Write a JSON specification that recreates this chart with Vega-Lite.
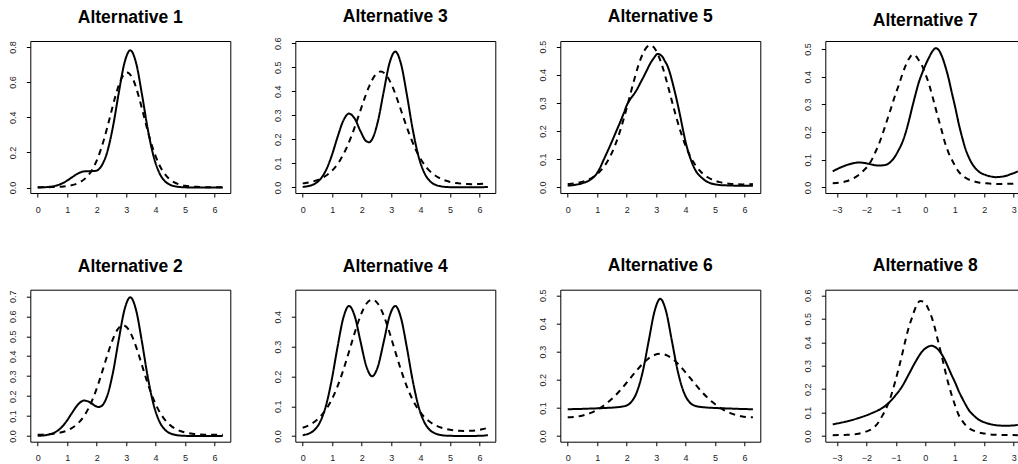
{
"$schema": "https://vega.github.io/schema/vega-lite/v6.json",
"autosize": {"type": "none"},
"padding": {"left": 30.3, "top": 41, "right": 987.7, "bottom": 423},
"background": "white",
"datasets": {"d": [
{"p":1,"s":"solid","x":0,"y":0.0006},{"p":1,"s":"solid","x":0.1963,"y":0.0016},{"p":1,"s":"solid","x":0.3927,"y":0.0041},{"p":1,"s":"solid","x":0.589,"y":0.0095},{"p":1,"s":"solid","x":0.7854,"y":0.0202},{"p":1,"s":"solid","x":0.9817,"y":0.0377},{"p":1,"s":"solid","x":1.1781,"y":0.0601},{"p":1,"s":"solid","x":1.3744,"y":0.0808},{"p":1,"s":"solid","x":1.5708,"y":0.0919},{"p":1,"s":"solid","x":1.7671,"y":0.0928},{"p":1,"s":"solid","x":1.9635,"y":0.0949},{"p":1,"s":"solid","x":2.1598,"y":0.1219},{"p":1,"s":"solid","x":2.3562,"y":0.2006},{"p":1,"s":"solid","x":2.5525,"y":0.3455},{"p":1,"s":"solid","x":2.7489,"y":0.5373},{"p":1,"s":"solid","x":2.9452,"y":0.7105},{"p":1,"s":"solid","x":3.1416,"y":0.781},{"p":1,"s":"solid","x":3.3379,"y":0.7091},{"p":1,"s":"solid","x":3.5343,"y":0.5334},{"p":1,"s":"solid","x":3.7306,"y":0.3361},{"p":1,"s":"solid","x":3.927,"y":0.1805},{"p":1,"s":"solid","x":4.1233,"y":0.0846},{"p":1,"s":"solid","x":4.3197,"y":0.0356},{"p":1,"s":"solid","x":4.516,"y":0.014},{"p":1,"s":"solid","x":4.7124,"y":0.0052},{"p":1,"s":"solid","x":4.9087,"y":0.002},{"p":1,"s":"solid","x":5.1051,"y":0.0008},{"p":1,"s":"solid","x":5.3014,"y":0.0004},{"p":1,"s":"solid","x":5.4978,"y":0.0002},{"p":1,"s":"solid","x":5.6941,"y":0.0001},{"p":1,"s":"solid","x":5.8905,"y":0.0002},{"p":1,"s":"solid","x":6.0868,"y":0.0002},{"p":1,"s":"solid","x":6.2832,"y":0.0006},
{"p":1,"s":"dashed","x":0,"y":0.00165},{"p":1,"s":"dashed","x":0.0857,"y":0.00172},{"p":1,"s":"dashed","x":0.282,"y":0.00204},{"p":1,"s":"dashed","x":0.4784,"y":0.00269},{"p":1,"s":"dashed","x":0.6747,"y":0.00391},{"p":1,"s":"dashed","x":0.8711,"y":0.00616},{"p":1,"s":"dashed","x":1.0674,"y":0.01035},{"p":1,"s":"dashed","x":1.2638,"y":0.01816},{"p":1,"s":"dashed","x":1.4601,"y":0.03261},{"p":1,"s":"dashed","x":1.6565,"y":0.05855},{"p":1,"s":"dashed","x":1.8528,"y":0.10278},{"p":1,"s":"dashed","x":2.0492,"y":0.17266},{"p":1,"s":"dashed","x":2.2455,"y":0.27202},{"p":1,"s":"dashed","x":2.4419,"y":0.39502},{"p":1,"s":"dashed","x":2.6382,"y":0.52128},{"p":1,"s":"dashed","x":2.8346,"y":0.61832},{"p":1,"s":"dashed","x":3.0309,"y":0.65496},{"p":1,"s":"dashed","x":3.2273,"y":0.61832},{"p":1,"s":"dashed","x":3.4236,"y":0.52128},{"p":1,"s":"dashed","x":3.62,"y":0.39502},{"p":1,"s":"dashed","x":3.8163,"y":0.27202},{"p":1,"s":"dashed","x":4.0127,"y":0.17266},{"p":1,"s":"dashed","x":4.209,"y":0.10278},{"p":1,"s":"dashed","x":4.4054,"y":0.05855},{"p":1,"s":"dashed","x":4.6017,"y":0.03261},{"p":1,"s":"dashed","x":4.7981,"y":0.01816},{"p":1,"s":"dashed","x":4.9944,"y":0.01035},{"p":1,"s":"dashed","x":5.1908,"y":0.00616},{"p":1,"s":"dashed","x":5.3871,"y":0.00391},{"p":1,"s":"dashed","x":5.5835,"y":0.00269},{"p":1,"s":"dashed","x":5.7798,"y":0.00204},{"p":1,"s":"dashed","x":5.9762,"y":0.00172},{"p":1,"s":"dashed","x":6.1725,"y":0.00162},{"p":1,"s":"dashed","x":6.2832,"y":0.00165},
{"p":2,"s":"solid","x":0,"y":0.0012},{"p":2,"s":"solid","x":0.1963,"y":0.0031},{"p":2,"s":"solid","x":0.3927,"y":0.008},{"p":2,"s":"solid","x":0.589,"y":0.0189},{"p":2,"s":"solid","x":0.7854,"y":0.0403},{"p":2,"s":"solid","x":0.9817,"y":0.075},{"p":2,"s":"solid","x":1.1781,"y":0.1192},{"p":2,"s":"solid","x":1.3744,"y":0.1593},{"p":2,"s":"solid","x":1.5708,"y":0.178},{"p":2,"s":"solid","x":1.7671,"y":0.1699},{"p":2,"s":"solid","x":1.9635,"y":0.1502},{"p":2,"s":"solid","x":2.0617,"y":0.1455},{"p":2,"s":"solid","x":2.1598,"y":0.1499},{"p":2,"s":"solid","x":2.3562,"y":0.2005},{"p":2,"s":"solid","x":2.5525,"y":0.3175},{"p":2,"s":"solid","x":2.7489,"y":0.482},{"p":2,"s":"solid","x":2.9452,"y":0.6333},{"p":2,"s":"solid","x":3.1416,"y":0.6949},{"p":2,"s":"solid","x":3.3379,"y":0.6306},{"p":2,"s":"solid","x":3.5343,"y":0.4743},{"p":2,"s":"solid","x":3.7306,"y":0.2988},{"p":2,"s":"solid","x":3.927,"y":0.1604},{"p":2,"s":"solid","x":4.1233,"y":0.0752},{"p":2,"s":"solid","x":4.3197,"y":0.0317},{"p":2,"s":"solid","x":4.516,"y":0.0124},{"p":2,"s":"solid","x":4.7124,"y":0.0046},{"p":2,"s":"solid","x":4.9087,"y":0.0018},{"p":2,"s":"solid","x":5.1051,"y":0.0007},{"p":2,"s":"solid","x":5.3014,"y":0.0003},{"p":2,"s":"solid","x":5.4978,"y":0.0002},{"p":2,"s":"solid","x":5.6941,"y":0.0002},{"p":2,"s":"solid","x":5.8905,"y":0.0003},{"p":2,"s":"solid","x":6.0868,"y":0.0004},{"p":2,"s":"solid","x":6.2832,"y":0.0012},
{"p":2,"s":"dashed","x":0,"y":0.00646},{"p":2,"s":"dashed","x":0.1481,"y":0.00718},{"p":2,"s":"dashed","x":0.3445,"y":0.00885},{"p":2,"s":"dashed","x":0.5408,"y":0.01172},{"p":2,"s":"dashed","x":0.7372,"y":0.01651},{"p":2,"s":"dashed","x":0.9335,"y":0.0244},{"p":2,"s":"dashed","x":1.1299,"y":0.03728},{"p":2,"s":"dashed","x":1.3262,"y":0.05793},{"p":2,"s":"dashed","x":1.5226,"y":0.09003},{"p":2,"s":"dashed","x":1.7189,"y":0.13757},{"p":2,"s":"dashed","x":1.9153,"y":0.20334},{"p":2,"s":"dashed","x":2.1116,"y":0.28638},{"p":2,"s":"dashed","x":2.308,"y":0.37934},{"p":2,"s":"dashed","x":2.5043,"y":0.4674},{"p":2,"s":"dashed","x":2.7007,"y":0.53156},{"p":2,"s":"dashed","x":2.897,"y":0.55517},{"p":2,"s":"dashed","x":3.0934,"y":0.53156},{"p":2,"s":"dashed","x":3.2897,"y":0.4674},{"p":2,"s":"dashed","x":3.4861,"y":0.37934},{"p":2,"s":"dashed","x":3.6824,"y":0.28638},{"p":2,"s":"dashed","x":3.8788,"y":0.20334},{"p":2,"s":"dashed","x":4.0751,"y":0.13757},{"p":2,"s":"dashed","x":4.2715,"y":0.09003},{"p":2,"s":"dashed","x":4.4678,"y":0.05793},{"p":2,"s":"dashed","x":4.6642,"y":0.03728},{"p":2,"s":"dashed","x":4.8605,"y":0.0244},{"p":2,"s":"dashed","x":5.0569,"y":0.01651},{"p":2,"s":"dashed","x":5.2532,"y":0.01172},{"p":2,"s":"dashed","x":5.4496,"y":0.00885},{"p":2,"s":"dashed","x":5.6459,"y":0.00718},{"p":2,"s":"dashed","x":5.8423,"y":0.00631},{"p":2,"s":"dashed","x":6.0386,"y":0.00605},{"p":2,"s":"dashed","x":6.235,"y":0.00631},{"p":2,"s":"dashed","x":6.2832,"y":0.00646},
{"p":3,"s":"solid","x":0,"y":0.002},{"p":3,"s":"solid","x":0.1963,"y":0.0054},{"p":3,"s":"solid","x":0.3927,"y":0.0139},{"p":3,"s":"solid","x":0.589,"y":0.033},{"p":3,"s":"solid","x":0.7854,"y":0.0703},{"p":3,"s":"solid","x":0.9817,"y":0.131},{"p":3,"s":"solid","x":1.1781,"y":0.208},{"p":3,"s":"solid","x":1.3744,"y":0.2771},{"p":3,"s":"solid","x":1.5708,"y":0.3073},{"p":3,"s":"solid","x":1.7671,"y":0.2858},{"p":3,"s":"solid","x":1.9635,"y":0.2331},{"p":3,"s":"solid","x":2.1598,"y":0.1918},{"p":3,"s":"solid","x":2.258,"y":0.1882},{"p":3,"s":"solid","x":2.3562,"y":0.2005},{"p":3,"s":"solid","x":2.5525,"y":0.2756},{"p":3,"s":"solid","x":2.7489,"y":0.3991},{"p":3,"s":"solid","x":2.9452,"y":0.5174},{"p":3,"s":"solid","x":3.1416,"y":0.5656},{"p":3,"s":"solid","x":3.3379,"y":0.5128},{"p":3,"s":"solid","x":3.5343,"y":0.3855},{"p":3,"s":"solid","x":3.7306,"y":0.2428},{"p":3,"s":"solid","x":3.927,"y":0.1304},{"p":3,"s":"solid","x":4.1233,"y":0.0611},{"p":3,"s":"solid","x":4.3197,"y":0.0257},{"p":3,"s":"solid","x":4.516,"y":0.0101},{"p":3,"s":"solid","x":4.7124,"y":0.0038},{"p":3,"s":"solid","x":4.9087,"y":0.0014},{"p":3,"s":"solid","x":5.1051,"y":0.0006},{"p":3,"s":"solid","x":5.3014,"y":0.0003},{"p":3,"s":"solid","x":5.4978,"y":0.0002},{"p":3,"s":"solid","x":5.6941,"y":0.0002},{"p":3,"s":"solid","x":5.8905,"y":0.0004},{"p":3,"s":"solid","x":6.0868,"y":0.0008},{"p":3,"s":"solid","x":6.2832,"y":0.002},
{"p":3,"s":"dashed","x":0,"y":0.01665},{"p":3,"s":"dashed","x":0.0955,"y":0.01818},{"p":3,"s":"dashed","x":0.2918,"y":0.02271},{"p":3,"s":"dashed","x":0.4882,"y":0.02979},{"p":3,"s":"dashed","x":0.6845,"y":0.04059},{"p":3,"s":"dashed","x":0.8809,"y":0.05679},{"p":3,"s":"dashed","x":1.0772,"y":0.08053},{"p":3,"s":"dashed","x":1.2736,"y":0.11419},{"p":3,"s":"dashed","x":1.4699,"y":0.15974},{"p":3,"s":"dashed","x":1.6663,"y":0.21769},{"p":3,"s":"dashed","x":1.8626,"y":0.28552},{"p":3,"s":"dashed","x":2.059,"y":0.35672},{"p":3,"s":"dashed","x":2.2553,"y":0.42088},{"p":3,"s":"dashed","x":2.4517,"y":0.466},{"p":3,"s":"dashed","x":2.648,"y":0.48231},{"p":3,"s":"dashed","x":2.8444,"y":0.466},{"p":3,"s":"dashed","x":3.0407,"y":0.42088},{"p":3,"s":"dashed","x":3.2371,"y":0.35672},{"p":3,"s":"dashed","x":3.4334,"y":0.28552},{"p":3,"s":"dashed","x":3.6298,"y":0.21769},{"p":3,"s":"dashed","x":3.8261,"y":0.15974},{"p":3,"s":"dashed","x":4.0225,"y":0.11419},{"p":3,"s":"dashed","x":4.2188,"y":0.08053},{"p":3,"s":"dashed","x":4.4152,"y":0.05679},{"p":3,"s":"dashed","x":4.6115,"y":0.04059},{"p":3,"s":"dashed","x":4.8079,"y":0.02979},{"p":3,"s":"dashed","x":5.0042,"y":0.02271},{"p":3,"s":"dashed","x":5.2006,"y":0.01818},{"p":3,"s":"dashed","x":5.3969,"y":0.01541},{"p":3,"s":"dashed","x":5.5933,"y":0.01391},{"p":3,"s":"dashed","x":5.7896,"y":0.01344},{"p":3,"s":"dashed","x":5.986,"y":0.01391},{"p":3,"s":"dashed","x":6.1823,"y":0.01541},{"p":3,"s":"dashed","x":6.2832,"y":0.01665},
{"p":4,"s":"solid","x":0,"y":0.0029},{"p":4,"s":"solid","x":0.1963,"y":0.0078},{"p":4,"s":"solid","x":0.3927,"y":0.0199},{"p":4,"s":"solid","x":0.589,"y":0.0471},{"p":4,"s":"solid","x":0.7854,"y":0.1004},{"p":4,"s":"solid","x":0.9817,"y":0.1869},{"p":4,"s":"solid","x":1.1781,"y":0.2968},{"p":4,"s":"solid","x":1.3744,"y":0.395},{"p":4,"s":"solid","x":1.5708,"y":0.4365},{"p":4,"s":"solid","x":1.7671,"y":0.4016},{"p":4,"s":"solid","x":1.9635,"y":0.3161},{"p":4,"s":"solid","x":2.1598,"y":0.2337},{"p":4,"s":"solid","x":2.3562,"y":0.2005},{"p":4,"s":"solid","x":2.5525,"y":0.2337},{"p":4,"s":"solid","x":2.7489,"y":0.3161},{"p":4,"s":"solid","x":2.9452,"y":0.4016},{"p":4,"s":"solid","x":3.1416,"y":0.4365},{"p":4,"s":"solid","x":3.3379,"y":0.395},{"p":4,"s":"solid","x":3.5343,"y":0.2968},{"p":4,"s":"solid","x":3.7306,"y":0.1869},{"p":4,"s":"solid","x":3.927,"y":0.1004},{"p":4,"s":"solid","x":4.1233,"y":0.0471},{"p":4,"s":"solid","x":4.3197,"y":0.0199},{"p":4,"s":"solid","x":4.516,"y":0.0078},{"p":4,"s":"solid","x":4.7124,"y":0.0029},{"p":4,"s":"solid","x":4.9087,"y":0.0011},{"p":4,"s":"solid","x":5.1051,"y":0.0005},{"p":4,"s":"solid","x":5.3014,"y":0.0003},{"p":4,"s":"solid","x":5.4978,"y":0.0002},{"p":4,"s":"solid","x":5.6941,"y":0.0003},{"p":4,"s":"solid","x":5.8905,"y":0.0005},{"p":4,"s":"solid","x":6.0868,"y":0.0011},{"p":4,"s":"solid","x":6.2832,"y":0.0029},
{"p":4,"s":"dashed","x":0,"y":0.02763},{"p":4,"s":"dashed","x":0.1963,"y":0.03545},{"p":4,"s":"dashed","x":0.3927,"y":0.04711},{"p":4,"s":"dashed","x":0.589,"y":0.06415},{"p":4,"s":"dashed","x":0.7854,"y":0.08842},{"p":4,"s":"dashed","x":0.9817,"y":0.12188},{"p":4,"s":"dashed","x":1.1781,"y":0.16595},{"p":4,"s":"dashed","x":1.3744,"y":0.22054},{"p":4,"s":"dashed","x":1.5708,"y":0.28297},{"p":4,"s":"dashed","x":1.7671,"y":0.34722},{"p":4,"s":"dashed","x":1.9635,"y":0.40422},{"p":4,"s":"dashed","x":2.1598,"y":0.44388},{"p":4,"s":"dashed","x":2.3562,"y":0.45812},{"p":4,"s":"dashed","x":2.5525,"y":0.44388},{"p":4,"s":"dashed","x":2.7489,"y":0.40422},{"p":4,"s":"dashed","x":2.9452,"y":0.34722},{"p":4,"s":"dashed","x":3.1416,"y":0.28297},{"p":4,"s":"dashed","x":3.3379,"y":0.22054},{"p":4,"s":"dashed","x":3.5343,"y":0.16595},{"p":4,"s":"dashed","x":3.7306,"y":0.12188},{"p":4,"s":"dashed","x":3.927,"y":0.08842},{"p":4,"s":"dashed","x":4.1233,"y":0.06415},{"p":4,"s":"dashed","x":4.3197,"y":0.04711},{"p":4,"s":"dashed","x":4.516,"y":0.03545},{"p":4,"s":"dashed","x":4.7124,"y":0.02763},{"p":4,"s":"dashed","x":4.9087,"y":0.02252},{"p":4,"s":"dashed","x":5.1051,"y":0.01934},{"p":4,"s":"dashed","x":5.3014,"y":0.01761},{"p":4,"s":"dashed","x":5.4978,"y":0.01707},{"p":4,"s":"dashed","x":5.6941,"y":0.01761},{"p":4,"s":"dashed","x":5.8905,"y":0.01934},{"p":4,"s":"dashed","x":6.0868,"y":0.02252},{"p":4,"s":"dashed","x":6.2832,"y":0.02763},
{"p":5,"s":"solid","x":0,"y":0.006},{"p":5,"s":"solid","x":0.25,"y":0.009},{"p":5,"s":"solid","x":0.5,"y":0.015},{"p":5,"s":"solid","x":0.75,"y":0.026},{"p":5,"s":"solid","x":0.9,"y":0.038},{"p":5,"s":"solid","x":1.05,"y":0.06},{"p":5,"s":"solid","x":1.22,"y":0.098},{"p":5,"s":"solid","x":1.36,"y":0.13},{"p":5,"s":"solid","x":1.5,"y":0.163},{"p":5,"s":"solid","x":1.65,"y":0.2},{"p":5,"s":"solid","x":1.79,"y":0.234},{"p":5,"s":"solid","x":1.9,"y":0.263},{"p":5,"s":"solid","x":2.01,"y":0.293},{"p":5,"s":"solid","x":2.12,"y":0.313},{"p":5,"s":"solid","x":2.24,"y":0.33},{"p":5,"s":"solid","x":2.35,"y":0.348},{"p":5,"s":"solid","x":2.46,"y":0.37},{"p":5,"s":"solid","x":2.58,"y":0.394},{"p":5,"s":"solid","x":2.69,"y":0.417},{"p":5,"s":"solid","x":2.8,"y":0.44},{"p":5,"s":"solid","x":2.92,"y":0.459},{"p":5,"s":"solid","x":3.05,"y":0.474},{"p":5,"s":"solid","x":3.2,"y":0.466},{"p":5,"s":"solid","x":3.3,"y":0.448},{"p":5,"s":"solid","x":3.37,"y":0.435},{"p":5,"s":"solid","x":3.48,"y":0.402},{"p":5,"s":"solid","x":3.59,"y":0.358},{"p":5,"s":"solid","x":3.7,"y":0.31},{"p":5,"s":"solid","x":3.82,"y":0.252},{"p":5,"s":"solid","x":3.92,"y":0.2},{"p":5,"s":"solid","x":4.01,"y":0.157},{"p":5,"s":"solid","x":4.14,"y":0.11},{"p":5,"s":"solid","x":4.27,"y":0.074},{"p":5,"s":"solid","x":4.38,"y":0.053},{"p":5,"s":"solid","x":4.5,"y":0.039},{"p":5,"s":"solid","x":4.67,"y":0.024},{"p":5,"s":"solid","x":4.84,"y":0.015},{"p":5,"s":"solid","x":5.1,"y":0.009},{"p":5,"s":"solid","x":5.4,"y":0.007},{"p":5,"s":"solid","x":5.8,"y":0.006},{"p":5,"s":"solid","x":6.2832,"y":0.006},
{"p":5,"s":"dashed","x":0,"y":0.01189},{"p":5,"s":"dashed","x":0.0511,"y":0.01232},{"p":5,"s":"dashed","x":0.2475,"y":0.01473},{"p":5,"s":"dashed","x":0.4438,"y":0.01872},{"p":5,"s":"dashed","x":0.6402,"y":0.02508},{"p":5,"s":"dashed","x":0.8365,"y":0.03502},{"p":5,"s":"dashed","x":1.0329,"y":0.05029},{"p":5,"s":"dashed","x":1.2292,"y":0.07328},{"p":5,"s":"dashed","x":1.4256,"y":0.10679},{"p":5,"s":"dashed","x":1.6219,"y":0.15337},{"p":5,"s":"dashed","x":1.8183,"y":0.21412},{"p":5,"s":"dashed","x":2.0146,"y":0.28688},{"p":5,"s":"dashed","x":2.211,"y":0.3647},{"p":5,"s":"dashed","x":2.4073,"y":0.4359},{"p":5,"s":"dashed","x":2.6037,"y":0.4865},{"p":5,"s":"dashed","x":2.8,"y":0.50488},{"p":5,"s":"dashed","x":2.9964,"y":0.4865},{"p":5,"s":"dashed","x":3.1927,"y":0.4359},{"p":5,"s":"dashed","x":3.3891,"y":0.3647},{"p":5,"s":"dashed","x":3.5854,"y":0.28688},{"p":5,"s":"dashed","x":3.7818,"y":0.21412},{"p":5,"s":"dashed","x":3.9781,"y":0.15337},{"p":5,"s":"dashed","x":4.1745,"y":0.10679},{"p":5,"s":"dashed","x":4.3708,"y":0.07328},{"p":5,"s":"dashed","x":4.5672,"y":0.05029},{"p":5,"s":"dashed","x":4.7635,"y":0.03502},{"p":5,"s":"dashed","x":4.9599,"y":0.02508},{"p":5,"s":"dashed","x":5.1562,"y":0.01872},{"p":5,"s":"dashed","x":5.3526,"y":0.01473},{"p":5,"s":"dashed","x":5.5489,"y":0.01232},{"p":5,"s":"dashed","x":5.7453,"y":0.01104},{"p":5,"s":"dashed","x":5.9416,"y":0.01064},{"p":5,"s":"dashed","x":6.138,"y":0.01104},{"p":5,"s":"dashed","x":6.2832,"y":0.01189},
{"p":6,"s":"solid","x":0,"y":0.0955},{"p":6,"s":"solid","x":0.1963,"y":0.0958},{"p":6,"s":"solid","x":0.3927,"y":0.0963},{"p":6,"s":"solid","x":0.589,"y":0.097},{"p":6,"s":"solid","x":0.7854,"y":0.0978},{"p":6,"s":"solid","x":0.9817,"y":0.0985},{"p":6,"s":"solid","x":1.1781,"y":0.0993},{"p":6,"s":"solid","x":1.3744,"y":0.1003},{"p":6,"s":"solid","x":1.5708,"y":0.1015},{"p":6,"s":"solid","x":1.7671,"y":0.1035},{"p":6,"s":"solid","x":1.9635,"y":0.1075},{"p":6,"s":"solid","x":2.1598,"y":0.1215},{"p":6,"s":"solid","x":2.3562,"y":0.159},{"p":6,"s":"solid","x":2.5525,"y":0.232},{"p":6,"s":"solid","x":2.7489,"y":0.3385},{"p":6,"s":"solid","x":2.9452,"y":0.4428},{"p":6,"s":"solid","x":3.1416,"y":0.4875},{"p":6,"s":"solid","x":3.3379,"y":0.4428},{"p":6,"s":"solid","x":3.5343,"y":0.3385},{"p":6,"s":"solid","x":3.7306,"y":0.232},{"p":6,"s":"solid","x":3.927,"y":0.159},{"p":6,"s":"solid","x":4.1233,"y":0.1215},{"p":6,"s":"solid","x":4.3197,"y":0.1075},{"p":6,"s":"solid","x":4.516,"y":0.1035},{"p":6,"s":"solid","x":4.7124,"y":0.1015},{"p":6,"s":"solid","x":4.9087,"y":0.1003},{"p":6,"s":"solid","x":5.1051,"y":0.0993},{"p":6,"s":"solid","x":5.3014,"y":0.0985},{"p":6,"s":"solid","x":5.4978,"y":0.0978},{"p":6,"s":"solid","x":5.6941,"y":0.097},{"p":6,"s":"solid","x":5.8905,"y":0.0963},{"p":6,"s":"solid","x":6.0868,"y":0.0958},{"p":6,"s":"solid","x":6.2832,"y":0.0955},
{"p":6,"s":"dashed","x":0,"y":0.06651},{"p":6,"s":"dashed","x":0.1963,"y":0.06746},{"p":6,"s":"dashed","x":0.3927,"y":0.07037},{"p":6,"s":"dashed","x":0.589,"y":0.07535},{"p":6,"s":"dashed","x":0.7854,"y":0.08261},{"p":6,"s":"dashed","x":0.9817,"y":0.09242},{"p":6,"s":"dashed","x":1.1781,"y":0.10503},{"p":6,"s":"dashed","x":1.3744,"y":0.12067},{"p":6,"s":"dashed","x":1.5708,"y":0.13941},{"p":6,"s":"dashed","x":1.7671,"y":0.16106},{"p":6,"s":"dashed","x":1.9635,"y":0.18504},{"p":6,"s":"dashed","x":2.1598,"y":0.2103},{"p":6,"s":"dashed","x":2.3562,"y":0.23526},{"p":6,"s":"dashed","x":2.5525,"y":0.25793},{"p":6,"s":"dashed","x":2.7489,"y":0.27619},{"p":6,"s":"dashed","x":2.9452,"y":0.28807},{"p":6,"s":"dashed","x":3.1416,"y":0.29219},{"p":6,"s":"dashed","x":3.3379,"y":0.28807},{"p":6,"s":"dashed","x":3.5343,"y":0.27619},{"p":6,"s":"dashed","x":3.7306,"y":0.25793},{"p":6,"s":"dashed","x":3.927,"y":0.23526},{"p":6,"s":"dashed","x":4.1233,"y":0.2103},{"p":6,"s":"dashed","x":4.3197,"y":0.18504},{"p":6,"s":"dashed","x":4.516,"y":0.16106},{"p":6,"s":"dashed","x":4.7124,"y":0.13941},{"p":6,"s":"dashed","x":4.9087,"y":0.12067},{"p":6,"s":"dashed","x":5.1051,"y":0.10503},{"p":6,"s":"dashed","x":5.3014,"y":0.09242},{"p":6,"s":"dashed","x":5.4978,"y":0.08261},{"p":6,"s":"dashed","x":5.6941,"y":0.07535},{"p":6,"s":"dashed","x":5.8905,"y":0.07037},{"p":6,"s":"dashed","x":6.0868,"y":0.06746},{"p":6,"s":"dashed","x":6.2832,"y":0.06651},
{"p":7,"s":"solid","x":-3.1416,"y":0.058},{"p":7,"s":"solid","x":-2.83,"y":0.074},{"p":7,"s":"solid","x":-2.49,"y":0.086},{"p":7,"s":"solid","x":-2.26,"y":0.09},{"p":7,"s":"solid","x":-2.0,"y":0.087},{"p":7,"s":"solid","x":-1.8,"y":0.082},{"p":7,"s":"solid","x":-1.59,"y":0.079},{"p":7,"s":"solid","x":-1.36,"y":0.081},{"p":7,"s":"solid","x":-1.2,"y":0.09},{"p":7,"s":"solid","x":-1.05,"y":0.108},{"p":7,"s":"solid","x":-0.91,"y":0.134},{"p":7,"s":"solid","x":-0.79,"y":0.16},{"p":7,"s":"solid","x":-0.68,"y":0.193},{"p":7,"s":"solid","x":-0.57,"y":0.235},{"p":7,"s":"solid","x":-0.45,"y":0.287},{"p":7,"s":"solid","x":-0.34,"y":0.333},{"p":7,"s":"solid","x":-0.23,"y":0.376},{"p":7,"s":"solid","x":-0.11,"y":0.412},{"p":7,"s":"solid","x":0.0,"y":0.441},{"p":7,"s":"solid","x":0.12,"y":0.468},{"p":7,"s":"solid","x":0.23,"y":0.49},{"p":7,"s":"solid","x":0.36,"y":0.503},{"p":7,"s":"solid","x":0.47,"y":0.494},{"p":7,"s":"solid","x":0.57,"y":0.472},{"p":7,"s":"solid","x":0.68,"y":0.437},{"p":7,"s":"solid","x":0.79,"y":0.394},{"p":7,"s":"solid","x":0.9,"y":0.342},{"p":7,"s":"solid","x":1.02,"y":0.287},{"p":7,"s":"solid","x":1.13,"y":0.232},{"p":7,"s":"solid","x":1.25,"y":0.181},{"p":7,"s":"solid","x":1.36,"y":0.14},{"p":7,"s":"solid","x":1.47,"y":0.11},{"p":7,"s":"solid","x":1.58,"y":0.087},{"p":7,"s":"solid","x":1.7,"y":0.069},{"p":7,"s":"solid","x":1.87,"y":0.053},{"p":7,"s":"solid","x":2.04,"y":0.045},{"p":7,"s":"solid","x":2.2,"y":0.04},{"p":7,"s":"solid","x":2.38,"y":0.037},{"p":7,"s":"solid","x":2.55,"y":0.038},{"p":7,"s":"solid","x":2.72,"y":0.041},{"p":7,"s":"solid","x":2.9,"y":0.048},{"p":7,"s":"solid","x":3.06,"y":0.054},{"p":7,"s":"solid","x":3.1416,"y":0.058},
{"p":7,"s":"dashed","x":-3.1416,"y":0.015},{"p":7,"s":"dashed","x":-2.9,"y":0.017},{"p":7,"s":"dashed","x":-2.72,"y":0.021},{"p":7,"s":"dashed","x":-2.49,"y":0.03},{"p":7,"s":"dashed","x":-2.26,"y":0.045},{"p":7,"s":"dashed","x":-2.1,"y":0.06},{"p":7,"s":"dashed","x":-1.93,"y":0.08},{"p":7,"s":"dashed","x":-1.8,"y":0.103},{"p":7,"s":"dashed","x":-1.7,"y":0.126},{"p":7,"s":"dashed","x":-1.58,"y":0.155},{"p":7,"s":"dashed","x":-1.47,"y":0.187},{"p":7,"s":"dashed","x":-1.36,"y":0.222},{"p":7,"s":"dashed","x":-1.25,"y":0.258},{"p":7,"s":"dashed","x":-1.13,"y":0.297},{"p":7,"s":"dashed","x":-1.02,"y":0.334},{"p":7,"s":"dashed","x":-0.9,"y":0.37},{"p":7,"s":"dashed","x":-0.79,"y":0.405},{"p":7,"s":"dashed","x":-0.68,"y":0.437},{"p":7,"s":"dashed","x":-0.57,"y":0.462},{"p":7,"s":"dashed","x":-0.43,"y":0.48},{"p":7,"s":"dashed","x":-0.3,"y":0.472},{"p":7,"s":"dashed","x":-0.23,"y":0.461},{"p":7,"s":"dashed","x":-0.11,"y":0.44},{"p":7,"s":"dashed","x":0.0,"y":0.411},{"p":7,"s":"dashed","x":0.12,"y":0.375},{"p":7,"s":"dashed","x":0.23,"y":0.334},{"p":7,"s":"dashed","x":0.34,"y":0.29},{"p":7,"s":"dashed","x":0.45,"y":0.246},{"p":7,"s":"dashed","x":0.57,"y":0.2},{"p":7,"s":"dashed","x":0.68,"y":0.157},{"p":7,"s":"dashed","x":0.79,"y":0.125},{"p":7,"s":"dashed","x":0.91,"y":0.098},{"p":7,"s":"dashed","x":1.02,"y":0.076},{"p":7,"s":"dashed","x":1.13,"y":0.057},{"p":7,"s":"dashed","x":1.25,"y":0.044},{"p":7,"s":"dashed","x":1.36,"y":0.035},{"p":7,"s":"dashed","x":1.58,"y":0.024},{"p":7,"s":"dashed","x":1.81,"y":0.018},{"p":7,"s":"dashed","x":2.04,"y":0.015},{"p":7,"s":"dashed","x":2.27,"y":0.013},{"p":7,"s":"dashed","x":2.6,"y":0.0125},{"p":7,"s":"dashed","x":2.9,"y":0.013},{"p":7,"s":"dashed","x":3.1416,"y":0.015},
{"p":8,"s":"solid","x":-3.1416,"y":0.05},{"p":8,"s":"solid","x":-2.72,"y":0.061},{"p":8,"s":"solid","x":-2.26,"y":0.077},{"p":8,"s":"solid","x":-1.81,"y":0.098},{"p":8,"s":"solid","x":-1.47,"y":0.119},{"p":8,"s":"solid","x":-1.25,"y":0.14},{"p":8,"s":"solid","x":-1.02,"y":0.172},{"p":8,"s":"solid","x":-0.79,"y":0.211},{"p":8,"s":"solid","x":-0.57,"y":0.261},{"p":8,"s":"solid","x":-0.34,"y":0.315},{"p":8,"s":"solid","x":-0.11,"y":0.36},{"p":8,"s":"solid","x":0.05,"y":0.378},{"p":8,"s":"solid","x":0.2,"y":0.385},{"p":8,"s":"solid","x":0.34,"y":0.379},{"p":8,"s":"solid","x":0.46,"y":0.365},{"p":8,"s":"solid","x":0.57,"y":0.346},{"p":8,"s":"solid","x":0.68,"y":0.32},{"p":8,"s":"solid","x":0.79,"y":0.289},{"p":8,"s":"solid","x":0.9,"y":0.258},{"p":8,"s":"solid","x":1.02,"y":0.226},{"p":8,"s":"solid","x":1.13,"y":0.193},{"p":8,"s":"solid","x":1.25,"y":0.162},{"p":8,"s":"solid","x":1.36,"y":0.136},{"p":8,"s":"solid","x":1.47,"y":0.112},{"p":8,"s":"solid","x":1.64,"y":0.088},{"p":8,"s":"solid","x":1.81,"y":0.07},{"p":8,"s":"solid","x":2.04,"y":0.057},{"p":8,"s":"solid","x":2.27,"y":0.049},{"p":8,"s":"solid","x":2.5,"y":0.045},{"p":8,"s":"solid","x":2.72,"y":0.044},{"p":8,"s":"solid","x":2.95,"y":0.045},{"p":8,"s":"solid","x":3.1416,"y":0.048},
{"p":8,"s":"dashed","x":-3.1416,"y":0.004},{"p":8,"s":"dashed","x":-2.72,"y":0.005},{"p":8,"s":"dashed","x":-2.49,"y":0.006},{"p":8,"s":"dashed","x":-2.27,"y":0.01},{"p":8,"s":"dashed","x":-2.04,"y":0.018},{"p":8,"s":"dashed","x":-1.81,"y":0.03},{"p":8,"s":"dashed","x":-1.7,"y":0.042},{"p":8,"s":"dashed","x":-1.58,"y":0.06},{"p":8,"s":"dashed","x":-1.47,"y":0.084},{"p":8,"s":"dashed","x":-1.36,"y":0.11},{"p":8,"s":"dashed","x":-1.25,"y":0.14},{"p":8,"s":"dashed","x":-1.13,"y":0.185},{"p":8,"s":"dashed","x":-1.02,"y":0.233},{"p":8,"s":"dashed","x":-0.9,"y":0.29},{"p":8,"s":"dashed","x":-0.79,"y":0.346},{"p":8,"s":"dashed","x":-0.68,"y":0.405},{"p":8,"s":"dashed","x":-0.57,"y":0.46},{"p":8,"s":"dashed","x":-0.45,"y":0.505},{"p":8,"s":"dashed","x":-0.34,"y":0.545},{"p":8,"s":"dashed","x":-0.17,"y":0.576},{"p":8,"s":"dashed","x":0.0,"y":0.566},{"p":8,"s":"dashed","x":0.11,"y":0.54},{"p":8,"s":"dashed","x":0.23,"y":0.502},{"p":8,"s":"dashed","x":0.34,"y":0.453},{"p":8,"s":"dashed","x":0.45,"y":0.396},{"p":8,"s":"dashed","x":0.57,"y":0.335},{"p":8,"s":"dashed","x":0.68,"y":0.275},{"p":8,"s":"dashed","x":0.79,"y":0.22},{"p":8,"s":"dashed","x":0.91,"y":0.169},{"p":8,"s":"dashed","x":1.02,"y":0.127},{"p":8,"s":"dashed","x":1.13,"y":0.091},{"p":8,"s":"dashed","x":1.25,"y":0.066},{"p":8,"s":"dashed","x":1.36,"y":0.048},{"p":8,"s":"dashed","x":1.47,"y":0.035},{"p":8,"s":"dashed","x":1.7,"y":0.02},{"p":8,"s":"dashed","x":2.0,"y":0.011},{"p":8,"s":"dashed","x":2.27,"y":0.006},{"p":8,"s":"dashed","x":2.6,"y":0.005},{"p":8,"s":"dashed","x":3.1416,"y":0.004}
]},
"columns": 4,
"spacing": {"row": 96.7, "column": 65},
"bounds": "flush",
"concat": [
{"width":200,"height":152,"title":{"text":"Alternative 1","offset":14.5},"data":{"name":"d"},"transform":[{"filter":"datum.p==1"}],"mark":{"type":"line","interpolate":"monotone","color":"black","strokeWidth":2},"encoding":{"x":{"field":"x","type":"quantitative","scale":{"domain":[-0.2513,6.5345],"nice":false,"zero":false},"axis":{"values":[0,1,2,3,4,5,6],"format":"d","title":null}},"y":{"field":"y","type":"quantitative","scale":{"domain":[-0.031,0.834],"nice":false,"zero":false},"axis":{"values":[0,0.2,0.4,0.6,0.8],"format":".1f","title":null}},"strokeDash":{"field":"s","type":"nominal","scale":{"domain":["solid","dashed"],"range":[[1,0],[6,5]]},"legend":null}}},
{"width":200,"height":152,"title":{"text":"Alternative 3","offset":11.4},"data":{"name":"d"},"transform":[{"filter":"datum.p==3"}],"mark":{"type":"line","interpolate":"monotone","color":"black","strokeWidth":2},"encoding":{"x":{"field":"x","type":"quantitative","scale":{"domain":[-0.2513,6.5345],"nice":false,"zero":false},"axis":{"values":[0,1,2,3,4,5,6],"format":"d","title":null}},"y":{"field":"y","type":"quantitative","scale":{"domain":[-0.0234,0.6096],"nice":false,"zero":false},"axis":{"values":[0,0.1,0.2,0.3,0.4,0.5,0.6],"format":".1f","title":null}},"strokeDash":{"field":"s","type":"nominal","scale":{"domain":["solid","dashed"],"range":[[1,0],[6,5]]},"legend":null}}},
{"width":200,"height":152,"title":{"text":"Alternative 5","offset":14.5},"data":{"name":"d"},"transform":[{"filter":"datum.p==5"}],"mark":{"type":"line","interpolate":"monotone","color":"black","strokeWidth":2},"encoding":{"x":{"field":"x","type":"quantitative","scale":{"domain":[-0.2513,6.5345],"nice":false,"zero":false},"axis":{"values":[0,1,2,3,4,5,6],"format":"d","title":null}},"y":{"field":"y","type":"quantitative","scale":{"domain":[-0.02,0.52],"nice":false,"zero":false},"axis":{"values":[0,0.1,0.2,0.3,0.4,0.5],"format":".1f","title":null}},"strokeDash":{"field":"s","type":"nominal","scale":{"domain":["solid","dashed"],"range":[[1,0],[6,5]]},"legend":null}}},
{"width":200,"height":152,"title":{"text":"Alternative 7","offset":11.8},"data":{"name":"d"},"transform":[{"filter":"datum.p==7"}],"mark":{"type":"line","interpolate":"monotone","color":"black","strokeWidth":2},"encoding":{"x":{"field":"x","type":"quantitative","scale":{"domain":[-3.3929,3.3929],"nice":false,"zero":false},"axis":{"values":[-3,-2,-1,0,1,2,3],"format":"d","title":null}},"y":{"field":"y","type":"quantitative","scale":{"domain":[-0.0203,0.5289],"nice":false,"zero":false},"axis":{"values":[0,0.1,0.2,0.3,0.4,0.5],"format":".1f","title":null}},"strokeDash":{"field":"s","type":"nominal","scale":{"domain":["solid","dashed"],"range":[[1,0],[6,5]]},"legend":null}}},
{"width":200,"height":152,"title":{"text":"Alternative 2","offset":14.5},"data":{"name":"d"},"transform":[{"filter":"datum.p==2"}],"mark":{"type":"line","interpolate":"monotone","color":"black","strokeWidth":2},"encoding":{"x":{"field":"x","type":"quantitative","scale":{"domain":[-0.2513,6.5345],"nice":false,"zero":false},"axis":{"values":[0,1,2,3,4,5,6],"format":"d","title":null}},"y":{"field":"y","type":"quantitative","scale":{"domain":[-0.0282,0.733],"nice":false,"zero":false},"axis":{"values":[0,0.1,0.2,0.3,0.4,0.5,0.6,0.7],"format":".1f","title":null}},"strokeDash":{"field":"s","type":"nominal","scale":{"domain":["solid","dashed"],"range":[[1,0],[6,5]]},"legend":null}}},
{"width":200,"height":152,"title":{"text":"Alternative 4","offset":14.5},"data":{"name":"d"},"transform":[{"filter":"datum.p==4"}],"mark":{"type":"line","interpolate":"monotone","color":"black","strokeWidth":2},"encoding":{"x":{"field":"x","type":"quantitative","scale":{"domain":[-0.2513,6.5345],"nice":false,"zero":false},"axis":{"values":[0,1,2,3,4,5,6],"format":"d","title":null}},"y":{"field":"y","type":"quantitative","scale":{"domain":[-0.019,0.491],"nice":false,"zero":false},"axis":{"values":[0,0.1,0.2,0.3,0.4],"format":".1f","title":null}},"strokeDash":{"field":"s","type":"nominal","scale":{"domain":["solid","dashed"],"range":[[1,0],[6,5]]},"legend":null}}},
{"width":200,"height":152,"title":{"text":"Alternative 6","offset":14.5},"data":{"name":"d"},"transform":[{"filter":"datum.p==6"}],"mark":{"type":"line","interpolate":"monotone","color":"black","strokeWidth":2},"encoding":{"x":{"field":"x","type":"quantitative","scale":{"domain":[-0.2513,6.5345],"nice":false,"zero":false},"axis":{"values":[0,1,2,3,4,5,6],"format":"d","title":null}},"y":{"field":"y","type":"quantitative","scale":{"domain":[-0.02,0.52],"nice":false,"zero":false},"axis":{"values":[0,0.1,0.2,0.3,0.4,0.5],"format":".1f","title":null}},"strokeDash":{"field":"s","type":"nominal","scale":{"domain":["solid","dashed"],"range":[[1,0],[6,5]]},"legend":null}}},
{"width":200,"height":152,"title":{"text":"Alternative 8","offset":14.5},"data":{"name":"d"},"transform":[{"filter":"datum.p==8"}],"mark":{"type":"line","interpolate":"monotone","color":"black","strokeWidth":2},"encoding":{"x":{"field":"x","type":"quantitative","scale":{"domain":[-3.3929,3.3929],"nice":false,"zero":false},"axis":{"values":[-3,-2,-1,0,1,2,3],"format":"d","title":null}},"y":{"field":"y","type":"quantitative","scale":{"domain":[-0.024,0.624],"nice":false,"zero":false},"axis":{"values":[0,0.1,0.2,0.3,0.4,0.5,0.6],"format":".1f","title":null}},"strokeDash":{"field":"s","type":"nominal","scale":{"domain":["solid","dashed"],"range":[[1,0],[6,5]]},"legend":null}}}
],
"config": {
"view": {"stroke": "black", "strokeWidth": 1},
"font": "Liberation Sans",
"axis": {"grid": false, "domain": false, "tickColor": "black", "tickSize": 4, "tickWidth": 1, "labelFontSize": 9, "labelColor": "#222222", "labelFont": "Liberation Sans", "labelOverlap": false},
"axisX": {"labelPadding": 8, "labelFlush": false},
"axisY": {"labelAngle": 270, "labelAlign": "center", "labelBaseline": "bottom", "labelPadding": 9},
"title": {"fontSize": 17.5, "fontWeight": "bold", "color": "black", "font": "Liberation Sans", "anchor": "middle", "frame": "group", "baseline": "alphabetic"}
}
}
